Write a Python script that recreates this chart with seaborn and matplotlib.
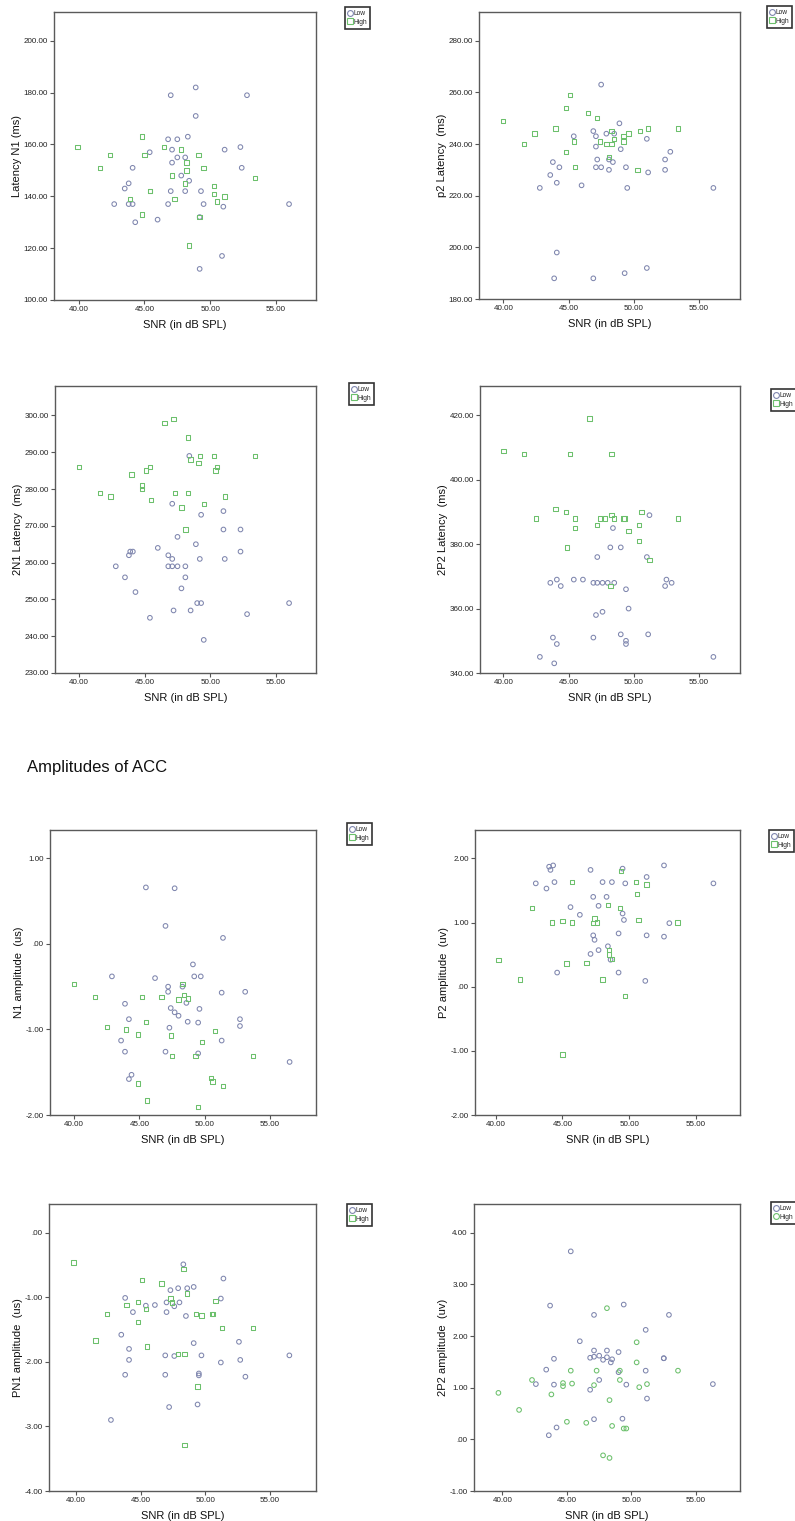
import numpy as np
import pandas as pd
import matplotlib
matplotlib.use("Agg")
import matplotlib.pyplot as plt
from matplotlib.lines import Line2D
import seaborn as sns

# ---------------- data ----------------
p1_low_x = [48.9, 47.0, 52.8, 48.9, 46.8, 47.5, 48.3, 52.3, 51.1, 47.1, 45.4, 47.5, 48.1, 47.1, 44.1, 52.4, 47.8, 48.4, 43.8, 43.5, 47.0, 48.1, 49.3, 42.7, 43.8, 44.1, 46.8, 49.5, 51.0, 56.0, 49.2, 46.0, 44.3, 50.9, 49.2]
p1_low_y = [182, 179, 179, 171, 162, 162, 163, 159, 158, 158, 157, 155, 155, 153, 151, 151, 148, 146, 145, 143, 142, 142, 142, 137, 137, 137, 137, 137, 136, 137, 132, 131, 130, 117, 112]
p1_high_x = [39.9, 41.6, 42.4, 44.8, 45.0, 43.9, 45.4, 45.4, 44.8, 46.5, 47.8, 47.1, 47.3, 48.2, 48.2, 48.1, 49.1, 49.5, 49.2, 48.4, 50.3, 50.3, 50.5, 51.1, 53.4]
p1_high_y = [159, 151, 156, 163, 156, 139, 142, 142, 133, 159, 158, 148, 139, 153, 150, 145, 156, 151, 132, 121, 144, 141, 138, 140, 147]

p2_low_x = [47.5, 48.9, 46.9, 47.9, 48.5, 45.4, 47.1, 51.0, 47.1, 49.0, 52.8, 43.8, 48.4, 47.2, 48.1, 52.4, 44.3, 47.1, 47.5, 49.4, 48.1, 52.4, 51.1, 43.6, 44.1, 46.0, 42.8, 49.5, 56.1, 44.1, 51.0, 49.3, 43.9, 46.9]
p2_low_y = [263, 248, 245, 244, 244, 243, 243, 242, 239, 238, 237, 233, 233, 234, 234, 234, 231, 231, 231, 231, 230, 230, 229, 228, 225, 224, 223, 223, 223, 198, 192, 190, 188, 188]
p2_high_x = [40.0, 41.6, 42.4, 44.0, 45.1, 44.8, 44.8, 45.4, 45.5, 46.5, 47.2, 47.4, 47.9, 48.3, 48.3, 48.5, 48.1, 49.2, 49.2, 49.6, 50.3, 50.5, 51.1, 53.4]
p2_high_y = [249, 240, 244, 246, 259, 254, 237, 241, 231, 252, 250, 241, 240, 240, 245, 242, 235, 243, 241, 244, 230, 245, 246, 246]

p3_low_x = [48.4, 47.1, 49.3, 51.0, 51.0, 52.3, 47.5, 48.9, 46.0, 52.3, 43.9, 44.1, 43.8, 46.8, 47.1, 49.2, 51.1, 42.8, 46.8, 47.1, 47.5, 48.1, 43.5, 48.1, 47.8, 44.3, 49.0, 49.3, 56.0, 47.2, 48.5, 52.8, 45.4, 49.5]
p3_low_y = [289, 276, 273, 274, 269, 269, 267, 265, 264, 263, 263, 263, 262, 262, 261, 261, 261, 259, 259, 259, 259, 259, 256, 256, 253, 252, 249, 249, 249, 247, 247, 246, 245, 239]
p3_high_x = [40.0, 41.6, 42.4, 44.0, 44.8, 44.8, 45.1, 45.4, 45.5, 46.5, 47.2, 47.3, 47.8, 48.3, 48.5, 48.3, 48.1, 49.2, 49.1, 49.5, 50.3, 50.5, 50.4, 51.1, 53.4]
p3_high_y = [286, 279, 278, 284, 281, 280, 285, 286, 277, 298, 299, 279, 275, 294, 288, 279, 269, 289, 287, 276, 289, 286, 285, 278, 289]

p4_low_x = [51.2, 48.4, 48.2, 49.0, 47.2, 51.0, 43.6, 44.1, 44.4, 45.4, 46.1, 46.9, 47.2, 47.6, 48.0, 48.5, 52.5, 52.4, 52.9, 49.4, 49.6, 47.6, 47.1, 43.8, 46.9, 49.0, 51.1, 44.1, 49.4, 49.4, 42.8, 56.1, 43.9]
p4_low_y = [389, 385, 379, 379, 376, 376, 368, 369, 367, 369, 369, 368, 368, 368, 368, 368, 369, 367, 368, 366, 360, 359, 358, 351, 351, 352, 352, 349, 350, 349, 345, 345, 343]
p4_high_x = [40.0, 41.6, 45.1, 48.3, 46.6, 42.5, 44.0, 44.8, 45.5, 45.5, 44.9, 47.2, 47.4, 47.8, 48.3, 48.5, 49.2, 49.3, 49.6, 50.4, 50.6, 50.4, 51.2, 53.4, 48.2]
p4_high_y = [409, 408, 408, 408, 419, 388, 391, 390, 388, 385, 379, 386, 388, 388, 389, 388, 388, 388, 384, 386, 390, 381, 375, 388, 367]

p5_low_x = [45.5, 47.7, 47.0, 51.4, 49.1, 42.9, 49.2, 49.7, 46.2, 47.2, 48.3, 47.2, 51.3, 53.1, 43.9, 48.6, 47.4, 49.6, 47.7, 48.0, 44.2, 52.7, 48.7, 49.5, 52.7, 47.3, 43.6, 51.3, 43.9, 47.0, 49.5, 56.5, 44.2, 44.4]
p5_low_y = [0.66, 0.65, 0.21, 0.07, -0.24, -0.38, -0.38, -0.38, -0.40, -0.50, -0.50, -0.56, -0.57, -0.56, -0.70, -0.69, -0.75, -0.76, -0.80, -0.84, -0.88, -0.88, -0.91, -0.92, -0.96, -0.98, -1.13, -1.13, -1.26, -1.26, -1.28, -1.38, -1.58, -1.53]
p5_high_x = [40.0, 41.6, 42.5, 44.0, 44.9, 45.2, 45.5, 44.9, 45.6, 46.7, 47.4, 47.5, 48.0, 48.3, 48.4, 48.7, 49.3, 49.5, 49.8, 50.5, 50.6, 50.8, 51.4, 53.7]
p5_high_y = [-0.47, -0.62, -0.97, -1.00, -1.06, -0.62, -0.91, -1.63, -1.83, -0.62, -1.07, -1.31, -0.65, -0.47, -0.60, -0.64, -1.31, -1.91, -1.15, -1.57, -1.61, -1.02, -1.66, -1.31]

p6_low_x = [44.0, 44.3, 44.1, 47.1, 49.5, 52.6, 43.0, 44.4, 43.8, 48.0, 48.7, 49.7, 51.3, 56.3, 47.3, 48.3, 45.6, 47.7, 46.3, 49.5, 49.6, 53.0, 49.2, 47.3, 47.4, 51.3, 52.6, 48.4, 47.7, 47.1, 48.6, 44.6, 49.2, 51.2]
p6_low_y = [1.87, 1.89, 1.82, 1.82, 1.84, 1.89, 1.61, 1.63, 1.53, 1.63, 1.63, 1.61, 1.71, 1.61, 1.40, 1.40, 1.24, 1.26, 1.12, 1.14, 1.04, 0.99, 0.83, 0.80, 0.73, 0.80, 0.78, 0.63, 0.57, 0.51, 0.42, 0.22, 0.22, 0.09]
p6_high_x = [40.2, 41.8, 42.7, 44.2, 45.0, 45.7, 45.7, 45.3, 45.0, 46.8, 47.4, 47.3, 47.6, 48.0, 48.4, 48.5, 48.5, 48.7, 49.3, 49.4, 49.7, 50.5, 50.6, 50.7, 51.3, 53.6]
p6_high_y = [0.42, 0.11, 1.23, 1.00, 1.02, 1.00, 1.63, 0.36, -1.06, 0.37, 1.06, 0.99, 1.00, 0.11, 1.27, 0.57, 0.50, 0.43, 1.23, 1.80, -0.15, 1.63, 1.44, 1.04, 1.59, 1.00]

p7_low_x = [48.3, 51.4, 47.3, 47.9, 48.6, 49.1, 43.8, 51.2, 47.0, 48.0, 45.4, 46.1, 47.6, 44.4, 47.0, 48.5, 43.5, 49.1, 52.6, 44.1, 44.1, 46.9, 47.6, 49.7, 56.5, 51.2, 52.7, 43.8, 46.9, 49.5, 49.5, 53.1, 49.4, 47.2, 42.7]
p7_low_y = [-0.49, -0.71, -0.89, -0.86, -0.86, -0.84, -1.01, -1.02, -1.08, -1.08, -1.13, -1.12, -1.14, -1.23, -1.23, -1.29, -1.58, -1.71, -1.69, -1.80, -1.97, -1.90, -1.91, -1.90, -1.90, -2.01, -1.97, -2.20, -2.20, -2.18, -2.21, -2.23, -2.66, -2.70, -2.90]
p7_high_x = [39.8, 41.5, 42.4, 43.9, 44.8, 44.8, 45.1, 45.4, 45.5, 46.6, 47.3, 47.4, 47.9, 48.4, 48.3, 48.6, 49.3, 49.7, 49.4, 50.5, 50.6, 50.8, 51.3, 48.4, 53.7]
p7_high_y = [-0.46, -1.67, -1.26, -1.12, -1.07, -1.38, -0.73, -1.18, -1.76, -0.79, -1.02, -1.08, -1.88, -1.88, -0.56, -0.94, -1.26, -1.28, -2.38, -1.26, -1.26, -1.06, -1.48, -3.29, -1.48]

p8_low_x = [45.3, 43.7, 49.4, 47.1, 52.9, 51.1, 46.0, 47.1, 48.1, 49.0, 44.0, 47.1, 47.5, 48.1, 47.8, 48.5, 48.4, 46.8, 52.5, 52.5, 43.4, 49.0, 51.1, 47.5, 42.6, 44.0, 49.6, 56.3, 46.8, 51.2, 47.1, 49.3, 44.2, 43.6]
p8_low_y = [3.64, 2.59, 2.61, 2.41, 2.41, 2.12, 1.90, 1.72, 1.72, 1.69, 1.56, 1.60, 1.62, 1.59, 1.54, 1.55, 1.49, 1.58, 1.57, 1.57, 1.35, 1.30, 1.33, 1.15, 1.07, 1.06, 1.06, 1.07, 0.96, 0.79, 0.39, 0.40, 0.23, 0.08]
p8_high_x = [39.7, 41.3, 42.3, 43.8, 44.7, 44.7, 45.3, 45.4, 45.0, 46.5, 47.3, 47.1, 48.1, 48.3, 47.8, 48.3, 48.5, 49.1, 49.1, 49.4, 49.6, 50.4, 50.4, 50.6, 51.2, 53.6]
p8_high_y = [0.90, 0.57, 1.15, 0.87, 1.09, 1.03, 1.33, 1.08, 0.34, 0.32, 1.33, 1.05, 2.54, 0.76, -0.31, -0.36, 0.26, 1.33, 1.15, 0.21, 0.21, 1.88, 1.49, 1.01, 1.07, 1.33]

y_labels = ["Latency N1 (ms)", "p2 Latency  (ms)", "2N1 Latency  (ms)", "2P2 Latency  (ms)",
            "N1 amplitude  (us)", "P2 amplitude  (uv)", "PN1 amplitude  (us)", "2P2 amplitude  (uv)"]
x_label = "SNR (in dB SPL)"
x_ticks = [40, 45, 50, 55]
group_labels = ["Low", "High"]
section_title = "Amplitudes of ACC"

# ---------------- layout / style ----------------
W, H = 795, 1521
LOW_C = "#7f86ae"
HIGH_C = "#6cc06c"

sns.set_style("white")
plt.rcParams["font.family"] = ["Liberation Sans", "DejaVu Sans"]

# (left, right, top, bottom) px ; xlim ; ylim ; yticks ; legend (x,y) px ; high marker
panel_specs = [
    ((54, 316, 12, 300), (38.12, 58.05), (100, 211.1), [100, 120, 140, 160, 180, 200], (345, 7), "s"),
    ((479, 740, 12, 299), (38.14, 58.14), (180, 291.1), [180, 200, 220, 240, 260, 280], (767, 6), "s"),
    ((55, 316, 386, 673), (38.17, 58.05), (230, 308.0), [230, 240, 250, 260, 270, 280, 290, 300], (349, 383), "s"),
    ((480, 740, 386, 673), (38.21, 58.14), (340, 429.1), [340, 360, 380, 400, 420], (771, 389), "s"),
    ((50, 316, 830, 1115), (38.16, 58.52), (-2, 1.331), [-2, -1, 0, 1], (347, 823), "s"),
    ((475, 740, 830, 1115), (38.45, 58.29), (-2, 2.442), [-2, -1, 0, 1, 2], (769, 830), "s"),
    ((49, 316, 1204, 1491), (37.91, 58.56), (-4, 0.444), [-4, -3, -2, -1, 0], (347, 1204), "s"),
    ((474, 740, 1204, 1491), (37.81, 58.40), (-1, 4.557), [-1, 0, 1, 2, 3, 4], (771, 1202), "o"),
]

series = [
    (p1_low_x, p1_low_y, p1_high_x, p1_high_y),
    (p2_low_x, p2_low_y, p2_high_x, p2_high_y),
    (p3_low_x, p3_low_y, p3_high_x, p3_high_y),
    (p4_low_x, p4_low_y, p4_high_x, p4_high_y),
    (p5_low_x, p5_low_y, p5_high_x, p5_high_y),
    (p6_low_x, p6_low_y, p6_high_x, p6_high_y),
    (p7_low_x, p7_low_y, p7_high_x, p7_high_y),
    (p8_low_x, p8_low_y, p8_high_x, p8_high_y),
]


def fmt(v):
    s = "%.2f" % v
    if s.startswith("0."):
        s = s[1:]
    elif s.startswith("-0."):
        s = "-" + s[2:]
    return s


fig = plt.figure(figsize=(W / 100, H / 100), dpi=100)
fig.patch.set_facecolor("white")

for i, (spec, ser) in enumerate(zip(panel_specs, series)):
    (l, r, t, b), xlim, ylim, yticks, (lx, ly), hmark = spec
    ax = fig.add_axes([l / W, 1 - b / H, (r - l) / W, (b - t) / H])
    lx_, ly_, hx_, hy_ = ser
    df = pd.concat([
        pd.DataFrame({"SNR": lx_, "val": ly_, "Group": "Low"}),
        pd.DataFrame({"SNR": hx_, "val": hy_, "Group": "High"}),
    ], ignore_index=True)
    lo = df[df.Group == "Low"]
    hi = df[df.Group == "High"]
    sns.scatterplot(data=lo, x="SNR", y="val", ax=ax, marker="o", s=11,
                    color=LOW_C, facecolors="none", edgecolor=LOW_C, linewidth=0.75, legend=False)
    sns.scatterplot(data=hi, x="SNR", y="val", ax=ax, marker=hmark, s=10 if hmark == "s" else 11,
                    color=HIGH_C, facecolors="none", edgecolor=HIGH_C, linewidth=0.75, legend=False)
    ax.set_xlim(*xlim)
    ax.set_ylim(*ylim)
    ax.set_xticks(x_ticks)
    ax.set_xticklabels([fmt(v) for v in x_ticks])
    ax.set_yticks(yticks)
    ax.set_yticklabels([fmt(v) for v in yticks])
    ax.tick_params(axis="both", direction="out", length=3, width=0.8, color="#555555",
                   labelsize=5.8, labelcolor="#222222", pad=1.5, left=True, bottom=True)
    for sp in ax.spines.values():
        sp.set_visible(True)
        sp.set_color("#5a5a5a")
        sp.set_linewidth(1.0)
    ax.set_xlabel(x_label, fontsize=8, color="#111111", labelpad=5)
    ax.set_ylabel(y_labels[i], fontsize=8, color="#111111", labelpad=1)

    handles = [
        Line2D([0], [0], marker="o", linestyle="none", markerfacecolor="none",
               markeredgecolor=LOW_C, markersize=4.2, markeredgewidth=0.8),
        Line2D([0], [0], marker=hmark, linestyle="none", markerfacecolor="none",
               markeredgecolor=HIGH_C, markersize=4.2, markeredgewidth=0.8),
    ]
    leg = fig.legend(handles, group_labels, loc="upper left",
                     bbox_to_anchor=(lx / W, 1 - ly / H), fontsize=4.8,
                     frameon=True, fancybox=False, borderpad=0.45, handlelength=0.6,
                     handletextpad=0.15, labelspacing=0.25, borderaxespad=0)
    leg.get_frame().set_edgecolor("black")
    leg.get_frame().set_linewidth(1.2)

fig.text(27 / W, 1 - 772 / H, section_title, fontsize=12, color="#111111", va="baseline", ha="left")

fig.savefig("out.png", dpi=100, facecolor="white")
